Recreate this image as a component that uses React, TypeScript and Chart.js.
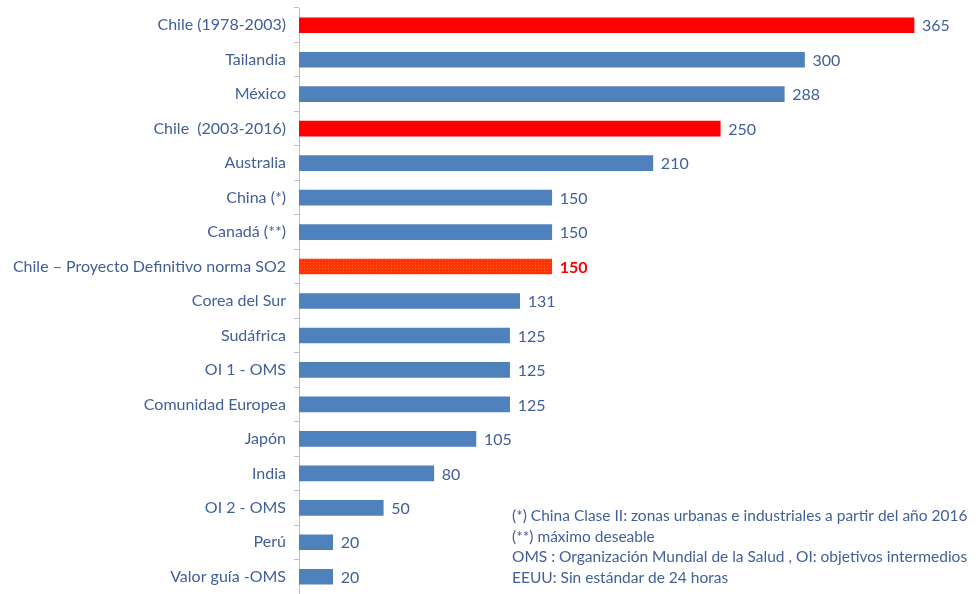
import React, { useEffect, useRef } from "react";
import { Chart, registerables } from "chart.js";

Chart.register(...registerables);

const categories = [
  "Chile (1978-2003)",
  "Tailandia",
  "México",
  "Chile  (2003-2016)",
  "Australia",
  "China (*)",
  "Canadá (**)",
  "Chile – Proyecto Definitivo norma SO2",
  "Corea del Sur",
  "Sudáfrica",
  "OI 1 - OMS",
  "Comunidad Europea",
  "Japón",
  "India",
  "OI 2 - OMS",
  "Perú",
  "Valor guía -OMS",
];
const values = [365, 300, 288, 250, 210, 150, 150, 150, 131, 125, 125, 125, 105, 80, 50, 20, 20];
// 0 = normal, 1 = Chile highlight, 2 = proposed norm
const kinds = [1, 0, 0, 1, 0, 0, 0, 2, 0, 0, 0, 0, 0, 0, 0, 0, 0];
const notes = [
  "(*) China Clase II: zonas urbanas e industriales a partir del año 2016",
  "(**) máximo deseable",
  "OMS : Organización Mundial de la Salud , OI: objetivos intermedios",
  "EEUU: Sin estándar de 24 horas",
];

const TEXT = "#41609a";
const FONT = "Lato, 'Open Sans', sans-serif";

function makePattern(): CanvasPattern | string {
  const c = document.createElement("canvas");
  c.width = 3;
  c.height = 3;
  const g = c.getContext("2d");
  if (!g) return "#ff3a00";
  g.fillStyle = "#ff3300";
  g.fillRect(0, 0, 3, 3);
  g.fillStyle = "#ff6a3a";
  g.fillRect(1, 1, 1, 1);
  return g.createPattern(c, "repeat") || "#ff3a00";
}

export default function App() {
  const ref = useRef<HTMLCanvasElement>(null);
  useEffect(() => {
    if (!ref.current) return;
    const pattern = makePattern();
    const colors = kinds.map((k) => (k === 1 ? "#ff0000" : k === 2 ? pattern : "#4f81bd"));
    const labelPlugin = {
      id: "valueLabels",
      afterDatasetsDraw(chart: any) {
        const ctx = chart.ctx;
        const meta = chart.getDatasetMeta(0);
        ctx.save();
        ctx.textBaseline = "middle";
        ctx.textAlign = "left";
        meta.data.forEach((bar: any, i: number) => {
          if (kinds[i] === 2) {
            ctx.fillStyle = "#ff0000";
            ctx.font = `bold 16px ${FONT}`;
          } else {
            ctx.fillStyle = TEXT;
            ctx.font = `16px ${FONT}`;
          }
          ctx.fillText(String(values[i]), bar.x + 8, bar.y + 1);
        });
        ctx.fillStyle = TEXT;
        ctx.font = `15.5px ${FONT}`;
        notes.forEach((n, i) => {
          ctx.fillText(n, 512, 516 + i * 20.5);
        });
        ctx.restore();
      },
    };
    const chart = new Chart(ref.current, {
      type: "bar",
      data: {
        labels: categories,
        datasets: [
          {
            data: values,
            backgroundColor: colors as any,
            barThickness: 15,
          },
        ],
      },
      options: {
        indexAxis: "y",
        animation: false,
        responsive: false,
        layout: { padding: { top: 8, right: 6, bottom: -1, left: 0 } },
        plugins: { legend: { display: false }, tooltip: { enabled: false } },
        scales: {
          x: {
            min: 0,
            max: 400,
            display: false,
          },
          y: {
            afterFit: (s: any) => {
              s.width = 299;
              s.paddingTop = 0;
              s.paddingBottom = 0;
            },
            grid: {
              offset: true,
              drawOnChartArea: false,
              tickLength: 5,
              color: "#bfbfbf",
            },
            border: { display: true, color: "#bfbfbf" },
            ticks: {
              color: TEXT,
              font: { family: FONT, size: 16 },
              padding: 8,
            },
          },
        },
      },
      plugins: [labelPlugin],
    });
    return () => chart.destroy();
  }, []);
  return (
    <div style={{ position: "fixed", left: 0, top: 0, width: 979, height: 594, background: "#fff" }}>
      <canvas ref={ref} width={979} height={594} style={{ display: "block" }} />
    </div>
  );
}
